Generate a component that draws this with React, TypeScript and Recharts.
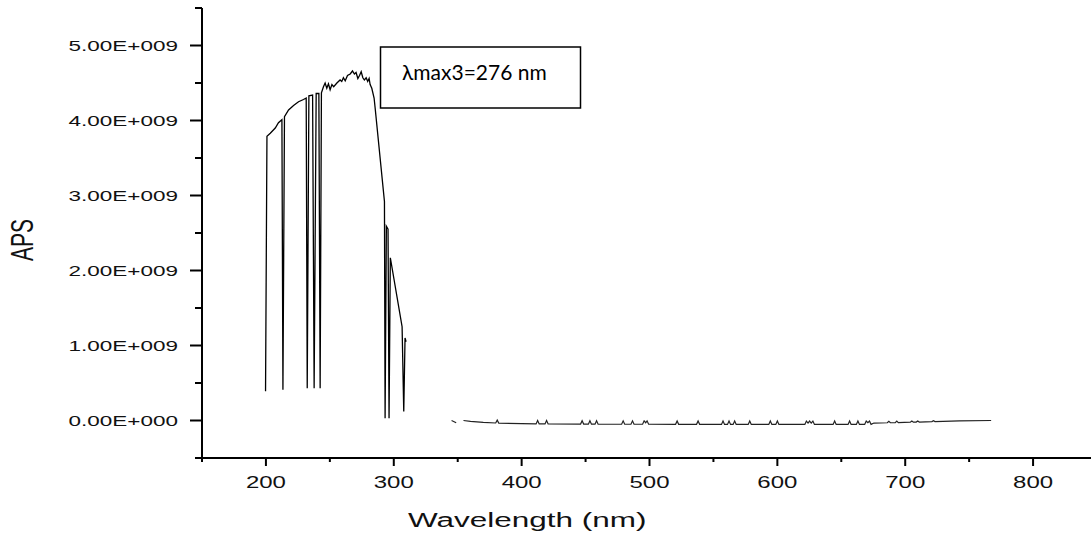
import { LineChart, Line, XAxis, YAxis } from "recharts";

// wavelength (nm) and APS (in units of 1e9)
const uvNm = [
  199.7, 200.8, 203.4, 207.3, 209.8, 212.5, 213.3, 214.5, 217.7, 221.6, 225.5, 229.4, 231.5, 232.3,
  233.6, 236.5, 237.7, 239.3, 241.4, 242.4, 243.4, 245.0, 246.3, 247.6, 248.9, 250.2, 251.6, 253.0,
  255.5, 258.0, 259.3, 260.6, 262.0, 263.8, 265.9, 267.7, 269.2, 270.5, 271.9, 273.2, 274.5, 275.8,
  277.0, 278.4, 279.6, 280.7, 281.5, 282.8, 284.6, 285.4, 292.7, 293.2, 294.2, 295.5, 296.3, 297.3,
  306.5, 307.8, 308.8, 309.6,
];
const uvAps = [
  0.39, 3.79, 3.83, 3.9, 3.97, 4.01, 0.41, 4.05, 4.14, 4.2, 4.25, 4.28, 4.3, 0.43,
  4.33, 4.34, 0.43, 4.36, 4.36, 0.43, 4.37, 4.45, 4.5, 4.43, 4.49, 4.41, 4.48, 4.45,
  4.5, 4.54, 4.52, 4.57, 4.53, 4.6, 4.62, 4.66, 4.62, 4.64, 4.56, 4.6, 4.65, 4.57,
  4.54, 4.57, 4.52, 4.56, 4.48, 4.43, 4.3, 4.17, 2.92, 0.03, 2.59, 2.55, 0.03, 2.17,
  1.25, 0.12, 1.1, 1.05,
];

const dashNm = [345.2, 348.8];
const dashAps = [0.0, -0.03];

const visNm = [
  354.5, 360, 370, 379.7, 380.9, 382.1, 400, 411.3, 412.5, 413.7, 418.3, 419.5, 420.7,
  446.1, 447.3, 448.5, 452.2, 453.4, 454.6, 457.4, 458.6, 459.8, 478.2, 479.4, 480.6,
  485.5, 486.7, 487.9, 494.6, 495.8, 497.0, 498.1, 499.3, 520.4, 521.6, 522.8,
  536.8, 538.0, 539.2, 556.3, 557.5, 558.7, 561.0, 562.2, 563.4, 565.4, 566.6, 567.8,
  577.2, 578.4, 579.6, 593.3, 594.5, 595.7, 598.8, 600.0, 601.2,
  621.5, 622.7, 624.0, 625.2, 626.5, 627.8, 629.0, 643.6, 644.8, 646.0,
  655.3, 656.5, 657.7, 661.8, 663.0, 664.2, 668.3, 669.5, 670.8, 672.1, 673.3, 675.5,
  686.0, 687.2, 688.4, 692.2, 693.4, 694.6, 704.0, 705.2, 706.4, 708.6, 709.8, 711.0,
  720.9, 722.1, 723.3, 742.4, 767.2,
];
const visAps = [
  0.0, -0.012, -0.025, -0.033, 0.005, -0.034, -0.042, -0.045, 0.0, -0.045, -0.046, 0.0, -0.046,
  -0.048, -0.003, -0.048, -0.049, -0.004, -0.049, -0.049, -0.004, -0.049, -0.05, -0.005, -0.05,
  -0.05, -0.005, -0.05, -0.05, -0.005, -0.03, -0.005, -0.05, -0.051, -0.006, -0.051,
  -0.051, -0.006, -0.051, -0.052, -0.007, -0.052, -0.052, -0.007, -0.052, -0.052, -0.007, -0.052,
  -0.052, -0.007, -0.052, -0.052, -0.007, -0.052, -0.052, -0.007, -0.052,
  -0.052, -0.007, -0.035, -0.007, -0.035, -0.007, -0.052, -0.052, -0.007, -0.052,
  -0.052, -0.007, -0.052, -0.052, -0.007, -0.052, -0.052, -0.007, -0.03, -0.007, -0.052, -0.034,
  -0.03, -0.01, -0.03, -0.028, -0.008, -0.028, -0.022, -0.006, -0.022, -0.021, -0.006, -0.021,
  -0.015, -0.003, -0.015, -0.005, 0.0,
];

const xTicks = [150, 200, 250, 300, 350, 400, 450, 500, 550, 600, 650, 700, 750, 800, 850];
const xLabelled = [200, 300, 400, 500, 600, 700, 800];
const yTicks = [-0.5, 0, 0.5, 1, 1.5, 2, 2.5, 3, 3.5, 4, 4.5, 5, 5.5];
const yLabels: Record<string, string> = {
  "0": "0.00E+000",
  "1": "1.00E+009",
  "2": "2.00E+009",
  "3": "3.00E+009",
  "4": "4.00E+009",
  "5": "5.00E+009",
};

const toRows = (nm: number[], aps: number[]) => nm.map((n, i) => ({ nm: n, aps: aps[i] }));
const uvData = toRows(uvNm, uvAps);
const dashData = toRows(dashNm, dashAps);
const visData = toRows(visNm, visAps);

const FONT = "'Liberation Sans', Arial, sans-serif";

const XTick = (props: any) => {
  const { x, y, payload } = props;
  const v = payload.value;
  const major = xLabelled.includes(v);
  return (
    <g>
      <line x1={x} x2={x} y1={y} y2={y + (major ? 8 : 4)} stroke="#000" strokeWidth={2} />
      {major && (
        <text
          transform={`translate(${x},${y + 30}) scale(1.5,1)`}
          textAnchor="middle"
          fontSize={16}
          fontFamily={FONT}
          fill="#111"
        >
          {v}
        </text>
      )}
    </g>
  );
};

const YTick = (props: any) => {
  const { x, y, payload } = props;
  const label = yLabels[String(payload.value)];
  return (
    <g>
      <line x1={x - (label ? 12 : 7)} x2={x} y1={y} y2={y} stroke="#000" strokeWidth={2} />
      {label && (
        <text
          transform={`translate(${x - 24},${y}) scale(1.5,1)`}
          textAnchor="end"
          dy="0.36em"
          fontSize={15}
          fontFamily={FONT}
          fill="#111"
        >
          {label}
        </text>
      )}
    </g>
  );
};

export default function App() {
  return (
    <div
      style={{
        position: "absolute",
        left: 0,
        top: 0,
        width: 1091,
        height: 538,
        overflow: "hidden",
        background: "#fff",
      }}
    >
      <LineChart width={1110} height={538} margin={{ top: 8, right: 13, left: 0, bottom: 0 }}>
        <XAxis
          type="number"
          dataKey="nm"
          domain={[150, 850]}
          ticks={xTicks}
          interval={0}
          allowDataOverflow
          height={80}
          tickSize={0}
          tickMargin={0}
          tickLine={false}
          axisLine={{ stroke: "#000", strokeWidth: 2 }}
          tick={<XTick />}
        />
        <YAxis
          type="number"
          domain={[-0.5, 5.5]}
          ticks={yTicks}
          interval={0}
          allowDataOverflow
          width={202}
          tickSize={0}
          tickMargin={0}
          tickLine={false}
          axisLine={{ stroke: "#000", strokeWidth: 2 }}
          tick={<YTick />}
        />
        <Line data={uvData} dataKey="aps" type="linear" stroke="#000" strokeWidth={1.3} dot={false} isAnimationActive={false} />
        <Line data={dashData} dataKey="aps" type="linear" stroke="#222" strokeWidth={1.2} dot={false} isAnimationActive={false} />
        <Line data={visData} dataKey="aps" type="linear" stroke="#222" strokeWidth={1.2} dot={false} isAnimationActive={false} />
      </LineChart>
      <svg
        width={1091}
        height={538}
        style={{ position: "absolute", left: 0, top: 0, pointerEvents: "none" }}
      >
        <text
          transform="translate(22,240) scale(1.5,1) rotate(-90)"
          textAnchor="middle"
          dy="0.36em"
          fontSize={21}
          fontFamily={FONT}
          fill="#111"
        >
          APS
        </text>
        <text
          transform="translate(408,527) scale(1.5,1)"
          textAnchor="start"
          fontSize={21}
          fontFamily={FONT}
          fill="#111"
        >
          Wavelength (nm)
        </text>
        <rect x={380.5} y={47} width={200} height={61} fill="#fff" stroke="#000" strokeWidth={1.5} />
        <text x={402} y={80} fontSize={21} fontFamily="Lato, 'Open Sans', sans-serif" fill="#000">
          λmax3=276 nm
        </text>
      </svg>
    </div>
  );
}
